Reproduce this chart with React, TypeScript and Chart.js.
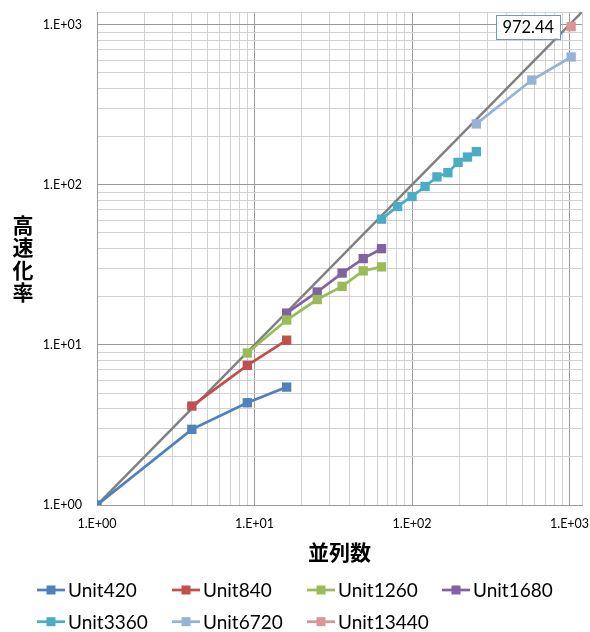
import React, { useEffect, useRef } from "react";
import { Chart, registerables } from "chart.js";

Chart.register(...registerables);

// ---- Data ----
const SERIES_LABELS = ["Unit420", "Unit840", "Unit1260", "Unit1680", "Unit3360", "Unit6720", "Unit13440"];
const SERIES_COLORS = ["#4F81BD", "#C0504D", "#9BBB59", "#8064A2", "#4BACC6", "#95B3D7", "#D99694"];

const unit420X = [1, 4, 9, 16];
const unit420Y = [1, 2.97, 4.35, 5.45];
const unit840X = [4, 9, 16];
const unit840Y = [4.15, 7.45, 10.7];
const unit1260X = [9, 16, 25, 36, 49, 64];
const unit1260Y = [8.9, 14.3, 19.2, 23.2, 29.0, 30.7];
const unit1680X = [16, 25, 36, 49, 64];
const unit1680Y = [15.8, 21.4, 28.1, 34.6, 39.9];
const unit3360X = [64, 81, 100, 121, 144, 169, 196, 225, 256];
const unit3360Y = [61, 73.2, 84.5, 97.6, 112, 119, 138, 149, 161];
const unit6720X = [256, 576, 1024];
const unit6720Y = [240, 451, 628];
const unit13440X = [1024];
const unit13440Y = [972.44];

const idealX = [1, 1200];
const idealY = [1, 1200];

const AXIS_MIN = 1;
const AXIS_MAX = 1200;
const GRID_VALUES = [
  1, 2, 3, 4, 5, 6, 7, 8, 9,
  10, 20, 30, 40, 50, 60, 70, 80, 90,
  100, 200, 300, 400, 500, 600, 700, 800, 900,
  1000, 1200,
];
const MAJOR_VALUES = [1, 10, 100, 1000];
const MAJOR_LABELS = ["1.E+00", "1.E+01", "1.E+02", "1.E+03"];

const X_TITLE = "並列数";
const Y_TITLE = "高速化率";
const DATA_LABEL_TEXT = "972.44";

const SERIES_X = [unit420X, unit840X, unit1260X, unit1680X, unit3360X, unit6720X, unit13440X];
const SERIES_Y = [unit420Y, unit840Y, unit1260Y, unit1680Y, unit3360Y, unit6720Y, unit13440Y];

const LATIN = "Lato, 'Open Sans', sans-serif";
const CJK = "'Noto Sans CJK JP', 'Noto Sans CJK SC', sans-serif";

const toPoints = (xs: number[], ys: number[]) => xs.map((x, i) => ({ x, y: ys[i] }));

const labelFor = (v: number) => {
  const i = MAJOR_VALUES.indexOf(v);
  return i >= 0 ? MAJOR_LABELS[i] : "";
};

const gridColor = (ctx: any) =>
  ctx.tick && MAJOR_VALUES.includes(ctx.tick.value) ? "#9a9a9a" : "#d2d2d2";

const decorPlugin = {
  id: "decor",
  afterDraw(chart: any) {
    const ctx = chart.ctx as CanvasRenderingContext2D;
    const area = chart.chartArea;
    ctx.save();

    // Data label for Unit13440
    const meta = chart.getDatasetMeta(6);
    const pt = meta && meta.data && meta.data[0];
    if (pt) {
      ctx.font = `16.5px ${LATIN}`;
      const tw = ctx.measureText(DATA_LABEL_TEXT).width;
      const bw = tw + 12;
      const bh = 24;
      const right = pt.x - 11;
      const left = right - bw;
      const top = pt.y - bh / 2;
      ctx.fillStyle = "#ffffff";
      ctx.fillRect(left, top, bw, bh);
      ctx.strokeStyle = "#7396c4";
      ctx.lineWidth = 1;
      ctx.strokeRect(Math.round(left) + 0.5, Math.round(top) + 0.5, Math.round(bw), Math.round(bh));
      ctx.fillStyle = "#000";
      ctx.textAlign = "center";
      ctx.textBaseline = "middle";
      ctx.fillText(DATA_LABEL_TEXT, left + bw / 2, pt.y + 1);
    }

    // Y title (vertical stacked)
    ctx.font = `bold 21px ${CJK}`;
    ctx.fillStyle = "#000";
    ctx.textAlign = "center";
    ctx.textBaseline = "middle";
    const chars = Array.from(Y_TITLE);
    const step = 22.5;
    const cy = (area.top + area.bottom) / 2;
    const startY = cy - (step * (chars.length - 1)) / 2;
    chars.forEach((c, i) => ctx.fillText(c, 23, startY + i * step));

    // X title
    ctx.fillText(X_TITLE, (area.left + area.right) / 2, 552);

    // Legend
    ctx.font = `19px ${LATIN}`;
    ctx.textAlign = "left";
    SERIES_LABELS.forEach((label, i) => {
      const row = Math.floor(i / 4);
      const col = i % 4;
      const x0 = 37 + col * 135;
      const y = 590 + row * 31.7;
      ctx.strokeStyle = SERIES_COLORS[i];
      ctx.lineWidth = 2.75;
      ctx.beginPath();
      ctx.moveTo(x0, y);
      ctx.lineTo(x0 + 28, y);
      ctx.stroke();
      ctx.fillStyle = SERIES_COLORS[i];
      ctx.fillRect(x0 + 9.5, y - 4.5, 9, 9);
      ctx.fillStyle = "#000";
      ctx.fillText(label, x0 + 31, y + 1);
    });

    ctx.restore();
  },
};

export default function App() {
  const canvasRef = useRef<HTMLCanvasElement | null>(null);

  useEffect(() => {
    const canvas = canvasRef.current;
    if (!canvas) return;

    const datasets: any[] = SERIES_LABELS.map((label, i) => ({
      label,
      data: toPoints(SERIES_X[i], SERIES_Y[i]),
      borderColor: SERIES_COLORS[i],
      backgroundColor: SERIES_COLORS[i],
      borderWidth: 2.75,
      pointStyle: "rect",
      pointRadius: 6.6,
      pointBorderWidth: 0,
      pointHoverRadius: 6.6,
      tension: 0,
    }));
    datasets.push({
      label: "ideal",
      data: toPoints(idealX, idealY),
      borderColor: "#808080",
      backgroundColor: "#808080",
      borderWidth: 2.5,
      pointRadius: 0,
      tension: 0,
    });

    const tickFont = { family: LATIN, size: 12.5 };

    const chart = new Chart(canvas, {
      type: "line",
      data: { datasets },
      options: {
        responsive: false,
        animation: false,
        devicePixelRatio: 1,
        layout: { padding: { top: 12, right: 8, left: 0, bottom: 0 } },
        plugins: {
          legend: { display: false },
          tooltip: { enabled: false },
          title: { display: false },
        },
        scales: {
          x: {
            type: "logarithmic",
            min: AXIS_MIN,
            max: AXIS_MAX,
            afterBuildTicks: (scale: any) => {
              scale.ticks = GRID_VALUES.map((v) => ({ value: v }));
            },
            afterFit: (scale: any) => {
              scale.height = 127;
              scale.paddingLeft = 0;
              scale.paddingRight = 0;
              scale.paddingTop = 0;
              scale.paddingBottom = 0;
            },
            grid: { color: gridColor, lineWidth: 1, drawTicks: false },
            border: { color: "#9a9a9a", width: 1 },
            ticks: {
              autoSkip: false,
              maxRotation: 0,
              minRotation: 0,
              padding: 11,
              color: "#000",
              font: tickFont,
              callback: (v: any) => labelFor(Number(v)),
            },
          },
          y: {
            type: "logarithmic",
            min: AXIS_MIN,
            max: AXIS_MAX,
            afterBuildTicks: (scale: any) => {
              scale.ticks = GRID_VALUES.map((v) => ({ value: v }));
            },
            afterFit: (scale: any) => {
              scale.width = 97;
              scale.paddingLeft = 0;
              scale.paddingRight = 0;
              scale.paddingTop = 0;
              scale.paddingBottom = 0;
            },
            grid: { color: gridColor, lineWidth: 1, drawTicks: false },
            border: { color: "#9a9a9a", width: 1 },
            ticks: {
              autoSkip: false,
              padding: 15,
              color: "#000",
              font: tickFont,
              callback: (v: any) => labelFor(Number(v)),
            },
          },
        },
      } as any,
      plugins: [decorPlugin],
    });

    return () => chart.destroy();
  }, []);

  return (
    <div style={{ position: "absolute", left: 0, top: 0, width: 590, height: 632, background: "#fff" }}>
      <canvas ref={canvasRef} width={590} height={632} style={{ display: "block" }} />
    </div>
  );
}
